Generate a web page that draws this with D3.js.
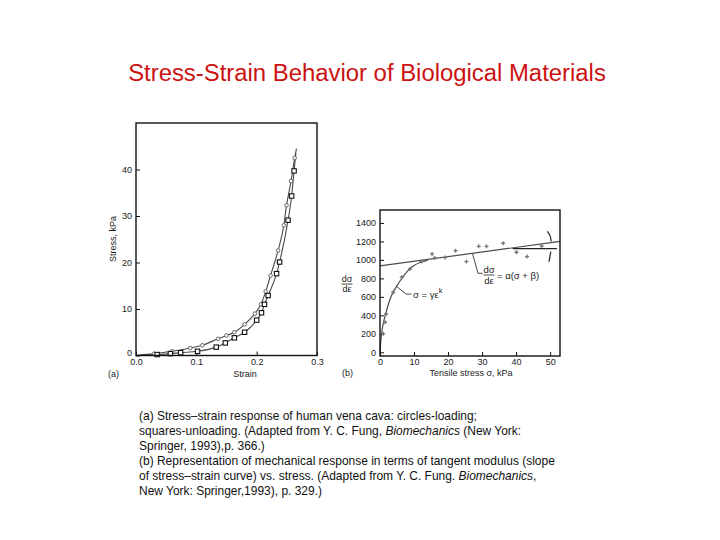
<!DOCTYPE html>
<html><head><meta charset="utf-8">
<script src="https://cdn.jsdelivr.net/npm/d3@7"></script>
<style>body{margin:0;background:#fff}svg{display:block}</style>
</head><body>
<script>
// ---------- data ----------
const titleText = "Stress-Strain Behavior of Biological Materials";

// (a) stress-strain of vena cava
const strainLoad   = [0, 0.03, 0.06, 0.09, 0.11, 0.136, 0.15, 0.163, 0.18, 0.197, 0.207, 0.215, 0.223, 0.2355, 0.245, 0.2495, 0.257, 0.263, 0.266];
const stressLoad   = [0, 0.4, 0.9, 1.6, 2.2, 3.6, 4.3, 5.0, 6.7, 9.0, 11.0, 13.8, 17.2, 22.6, 28.0, 32.3, 37.5, 42.5, 44.5];
const strainUnload = [0, 0.035, 0.057, 0.074, 0.102, 0.133, 0.148, 0.163, 0.18, 0.2, 0.208, 0.213, 0.219, 0.233, 0.238, 0.252, 0.258, 0.262, 0.265];
const stressUnload = [0, 0.2, 0.4, 0.6, 0.9, 1.8, 2.7, 3.8, 5.0, 7.6, 9.2, 11.0, 12.9, 17.6, 20.1, 29.1, 34.3, 39.7, 43.5];
const ticksAx = [0, 0.1, 0.2, 0.3];
const ticksAy = [0, 10, 20, 30, 40];

// (b) tangent modulus vs stress
const sigmaCurve   = [0, 0.3, 0.7, 1.2, 2, 3, 4, 5.5, 7, 8.5, 10, 12, 14];
const modulusCurve = [0, 150, 260, 350, 460, 580, 660, 750, 830, 895, 940, 975, 995];
const sigmaLine    = [0, 52.9];
const modulusLine  = [935, 1200];
const sigmaFlat    = [39, 52];
const modulusFlat  = [1122, 1122];
const sigmaPts     = [1, 1.5, 1.8, 3.9, 6.4, 8.8, 12.2, 16.1, 19.1, 15.3, 22.2, 25.4, 29.0, 31.3, 36.2, 40.1, 43.2, 47.5];
const modulusPts   = [200, 325, 415, 650, 812, 902, 982, 1021, 1025, 1065, 1100, 982, 1147, 1147, 1180, 1083, 1036, 1150];
const sigmaBrUp    = [49.2, 50.0, 50.3];
const modulusBrUp  = [1310, 1260, 1200];
const sigmaBrLo    = [50.2, 49.9, 49.7];
const modulusBrLo  = [1090, 1030, 980];
const ticksBx = [0, 10, 20, 30, 40, 50];
const ticksBy = [0, 200, 400, 600, 800, 1000, 1200, 1400];

const captionLines = [
  [["(a) Stress–strain response of human vena cava: circles-loading;", false]],
  [["squares-unloading. (Adapted from Y. C. Fung, ", false], ["Biomechanics", true], [" (New York:", false]],
  [["Springer, 1993),p. 366.)", false]],
  [["(b) Representation of mechanical response in terms of tangent modulus (slope", false]],
  [["of stress–strain curve) vs. stress. (Adapted from Y. C. Fung. ", false], ["Biomechanics", true], [",", false]],
  [["New York: Springer,1993), p. 329.)", false]]
];

// ---------- drawing ----------
const W = 720, H = 540;
const svg = d3.select("body").append("svg").attr("width", W).attr("height", H);
const FONT = "'Liberation Sans', Arial, sans-serif";
const ink = "#1a1a1a";
const lineCol = "#4a4a4a";
const LFS = 9;

// title
const title = svg.append("text").attr("x", 367).attr("y", 81).attr("text-anchor", "middle")
  .attr("font-family", FONT).attr("font-size", 20).attr("fill", "#cc1111").text(titleText);
{
  const w = title.node().getComputedTextLength();
  title.attr("font-size", 20 * 478 / w);
}

function tickText(sel) {
  sel.selectAll("text").attr("font-family", FONT).attr("font-size", LFS).attr("fill", ink);
  sel.selectAll("line").attr("stroke", "#111");
  sel.select(".domain").remove();
}

// ----- chart (a)
const ax = d3.scaleLinear().domain([0, 0.3]).range([136, 317]);
const ay = d3.scaleLinear().domain([0, 50]).range([355.5, 123]);
const ga = svg.append("g");
ga.append("g").attr("transform", `translate(0,${ay.range()[0]})`)
  .call(d3.axisBottom(ax).tickValues(ticksAx).tickFormat(d3.format(".1f")).tickSizeInner(-4).tickSizeOuter(0).tickPadding(3))
  .call(tickText);
ga.append("g").attr("transform", `translate(${ax.range()[0]},0)`)
  .call(d3.axisLeft(ay).tickValues(ticksAy).tickFormat(d3.format("d")).tickSizeInner(-4).tickSizeOuter(0).tickPadding(4))
  .call(tickText)
  .call(g => g.selectAll("g.tick").filter(d => d === 0).select("text").attr("y", -3));

const lineA = d3.line().x(d => ax(d[0])).y(d => ay(d[1])).curve(d3.curveMonotoneX);
const loadPts = strainLoad.map((s, i) => [s, stressLoad[i]]);
const unloadPts = strainUnload.map((s, i) => [s, stressUnload[i]]);
ga.append("path").attr("d", lineA(loadPts)).attr("fill", "none").attr("stroke", lineCol).attr("stroke-width", 1.1);
ga.append("path").attr("d", lineA(unloadPts)).attr("fill", "none").attr("stroke", lineCol).attr("stroke-width", 1.1);
ga.selectAll("circle.ld").data(loadPts.slice(1, -1)).join("circle")
  .attr("cx", d => ax(d[0])).attr("cy", d => ay(d[1])).attr("r", 1.8)
  .attr("fill", "#fff").attr("stroke", "#666").attr("stroke-width", 1);
ga.selectAll("rect.ul").data(unloadPts.slice(1, -1)).join("rect")
  .attr("x", d => ax(d[0]) - 2.2).attr("y", d => ay(d[1]) - 2.2).attr("width", 4.4).attr("height", 4.4)
  .attr("fill", "#fff").attr("stroke", "#111").attr("stroke-width", 1.1);
ga.append("rect").attr("x", 136).attr("y", 123).attr("width", 181).attr("height", 232.5)
  .attr("fill", "none").attr("stroke", "#111").attr("stroke-width", 1.4);
ga.append("text").attr("x", 245).attr("y", 377).attr("text-anchor", "middle")
  .attr("font-family", FONT).attr("font-size", LFS).attr("fill", ink).text("Strain");
ga.append("text").attr("x", 108).attr("y", 377)
  .attr("font-family", FONT).attr("font-size", LFS).attr("fill", ink).text("(a)");
ga.append("text").attr("transform", "translate(116,239) rotate(-90)").attr("text-anchor", "middle")
  .attr("font-family", FONT).attr("font-size", LFS).attr("fill", ink).text("Stress, kPa");

// ----- chart (b)
const bx = d3.scaleLinear().domain([0, 52.9]).range([380, 560]);
const by = d3.scaleLinear().domain([-40, 1540]).range([356, 210]);
const gb = svg.append("g");
gb.append("g").attr("transform", `translate(0,356)`)
  .call(d3.axisBottom(bx).tickValues(ticksBx).tickFormat(d3.format("d")).tickSizeInner(-4).tickSizeOuter(0).tickPadding(3))
  .call(tickText);
gb.append("g").attr("transform", `translate(380,0)`)
  .call(d3.axisLeft(by).tickValues(ticksBy).tickFormat(d3.format("d")).tickSizeInner(-4).tickSizeOuter(0).tickPadding(4))
  .call(tickText);

const curvePts = sigmaCurve.map((s, i) => [s, modulusCurve[i]]);
gb.append("path").attr("d", d3.line().x(d => bx(d[0])).y(d => by(d[1])).curve(d3.curveMonotoneX)(curvePts))
  .attr("fill", "none").attr("stroke", lineCol).attr("stroke-width", 1.2);
const lineB = d3.line().x(d => bx(d[0])).y(d => by(d[1]));
gb.append("path").attr("d", lineB(sigmaLine.map((s, i) => [s, modulusLine[i]])))
  .attr("fill", "none").attr("stroke", lineCol).attr("stroke-width", 1.2);
gb.append("path").attr("d", lineB(sigmaFlat.map((s, i) => [s, modulusFlat[i]])))
  .attr("fill", "none").attr("stroke", "#222").attr("stroke-width", 1.1);
const brLine = d3.line().x(d => bx(d[0])).y(d => by(d[1])).curve(d3.curveNatural);
gb.append("path").attr("d", brLine(sigmaBrUp.map((s, i) => [s, modulusBrUp[i]]))).attr("fill", "none").attr("stroke", "#333").attr("stroke-width", 1.3);
gb.append("path").attr("d", brLine(sigmaBrLo.map((s, i) => [s, modulusBrLo[i]]))).attr("fill", "none").attr("stroke", "#333").attr("stroke-width", 1.3);
const star = d3.symbol().type(d3.symbolCross).size(9);
gb.selectAll("path.pt").data(sigmaPts.map((s, i) => [s, modulusPts[i]])).join("path")
  .attr("transform", d => `translate(${bx(d[0])},${by(d[1])})`).attr("d", star).attr("fill", "#777");
gb.append("rect").attr("x", 380).attr("y", 210).attr("width", 180).attr("height", 146)
  .attr("fill", "none").attr("stroke", "#111").attr("stroke-width", 1.4);

// annotations (b)
gb.append("path").attr("d", `M${bx(4.8)},${by(715)} L${bx(7.7)},${by(630)} L${bx(9.2)},${by(630)}`)
  .attr("fill", "none").attr("stroke", "#333").attr("stroke-width", 0.9);
const g1 = gb.append("text").attr("x", 413).attr("y", 298).attr("font-family", FONT).attr("font-size", 9.5).attr("fill", ink);
g1.append("tspan").text("σ = γε");
g1.append("tspan").attr("dy", -5).attr("font-size", 7.5).text("k");
gb.append("path").attr("d", `M${bx(27.2)},${by(1068)} L${bx(28.8)},${by(855)} L${bx(30.2)},${by(855)}`)
  .attr("fill", "none").attr("stroke", "#333").attr("stroke-width", 0.9);
function frac(g, x, y, fs) {
  g.append("text").attr("x", x).attr("y", y - 2).attr("text-anchor", "middle").attr("font-family", FONT).attr("font-size", fs).attr("fill", ink).text("dσ");
  g.append("line").attr("x1", x - 5.5).attr("x2", x + 5.5).attr("y1", y).attr("y2", y).attr("stroke", ink).attr("stroke-width", 0.8);
  g.append("text").attr("x", x).attr("y", y + fs - 1).attr("text-anchor", "middle").attr("font-family", FONT).attr("font-size", fs).attr("fill", ink).text("dε");
}
frac(gb, 489, 275, 9.5);
gb.append("text").attr("x", 497).attr("y", 278.5).attr("font-family", FONT).attr("font-size", 9.5).attr("fill", ink).text("= α(σ + β)");
frac(gb, 347, 284, 9);
gb.append("text").attr("x", 471).attr("y", 376).attr("text-anchor", "middle")
  .attr("font-family", FONT).attr("font-size", LFS).attr("fill", ink).text("Tensile stress σ, kPa");
gb.append("text").attr("x", 342).attr("y", 376)
  .attr("font-family", FONT).attr("font-size", LFS).attr("fill", ink).text("(b)");

// caption
const cap = svg.append("g");
captionLines.forEach((parts, i) => {
  const t = cap.append("text").attr("x", 139).attr("y", 420 + i * 15)
    .attr("font-family", FONT).attr("font-size", 11.5).attr("fill", "#111");
  parts.forEach(([s, it]) => t.append("tspan").attr("font-style", it ? "italic" : "normal").text(s));
});
{
  const n = cap.selectAll("text").nodes()[3];
  const w = n.getComputedTextLength();
  cap.selectAll("text").attr("font-size", 11.5 * 416 / w);
}
</script>
</body></html>
